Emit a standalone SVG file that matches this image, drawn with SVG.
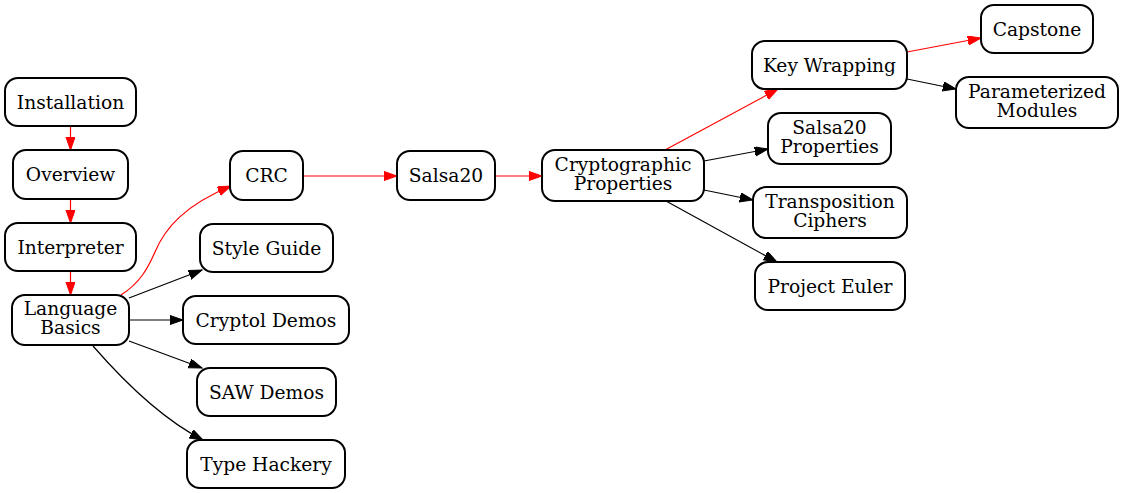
<svg xmlns="http://www.w3.org/2000/svg" width="1123" height="493" viewBox="0 0 1123 493">
<style>
.n rect{fill:#fff;stroke:#000;stroke-width:2;}
.n text{font-family:"DejaVu Serif",serif;font-size:18.67px;text-anchor:middle;fill:#000;}
.e path{fill:none;stroke-width:1.2;}
.r{stroke:#ff0000;marker-end:url(#ar);}
.b{stroke:#000;marker-end:url(#ab);}
</style>
<defs>
<marker id="ar" markerUnits="userSpaceOnUse" markerWidth="14" markerHeight="10" refX="13.3" refY="4.67" orient="auto"><path d="M0,0 L13.3,4.67 L0,9.33 z" fill="#ff0000" stroke="#ff0000" stroke-width="1"/></marker>
<marker id="ab" markerUnits="userSpaceOnUse" markerWidth="14" markerHeight="10" refX="13.3" refY="4.67" orient="auto"><path d="M0,0 L13.3,4.67 L0,9.33 z" fill="#000" stroke="#000" stroke-width="1"/></marker>
</defs>
<rect width="1123" height="493" fill="#fff"/>
<g id="edges" class="e">
<path class="r" d="M70.5,126 L70.5,150"/>
<path class="r" d="M70.5,199 L70.5,223"/>
<path class="r" d="M70.5,271 L70.5,295"/>
<path class="r" d="M121,295 C140,283 148,268 155,252 C165,228 185,205 231,186"/>
<path class="b" d="M129,298 L202,270"/>
<path class="b" d="M129,320 L183,320"/>
<path class="b" d="M129,341 L202,368"/>
<path class="b" d="M93,346 C120,377 160,418 203,440"/>
<path class="r" d="M303,176 L397,176"/>
<path class="r" d="M495,176 L542,176"/>
<path class="r" d="M665,150 L778,89"/>
<path class="b" d="M704,161 L768,149"/>
<path class="b" d="M704,190 L753,200"/>
<path class="b" d="M666,201 L777,262"/>
<path class="r" d="M907,52 L981,38"/>
<path class="b" d="M907,79 L956,89"/>
</g>
<g id="installation" class="n"><rect x="5" y="78" width="131" height="48" rx="13"/><text x="70.5" y="108.5">Installation</text></g>
<g id="overview" class="n"><rect x="13" y="150" width="115" height="49" rx="13"/><text x="70.5" y="181">Overview</text></g>
<g id="interpreter" class="n"><rect x="5" y="223" width="131" height="48" rx="13"/><text x="70.5" y="253.5">Interpreter</text></g>
<g id="language-basics" class="n"><rect x="12" y="295" width="117" height="50" rx="13"/><text x="70.5" y="315">Language</text><text x="70.5" y="334">Basics</text></g>
<g id="crc" class="n"><rect x="230" y="151" width="73" height="49" rx="13"/><text x="266.5" y="182">CRC</text></g>
<g id="style-guide" class="n"><rect x="200" y="224" width="133" height="48" rx="13"/><text x="266.5" y="254.5">Style Guide</text></g>
<g id="cryptol-demos" class="n"><rect x="183" y="296" width="166" height="48" rx="13"/><text x="266" y="326.5">Cryptol Demos</text></g>
<g id="saw-demos" class="n"><rect x="197" y="368" width="139" height="48" rx="13"/><text x="266.5" y="398.5">SAW Demos</text></g>
<g id="type-hackery" class="n"><rect x="187" y="440" width="158" height="48" rx="13"/><text x="266" y="470.5">Type Hackery</text></g>
<g id="salsa20" class="n"><rect x="397" y="151" width="98" height="49" rx="13"/><text x="446" y="182">Salsa20</text></g>
<g id="cryptographic-properties" class="n"><rect x="542" y="150" width="162" height="51" rx="13"/><text x="623" y="170.5">Cryptographic</text><text x="623" y="190">Properties</text></g>
<g id="key-wrapping" class="n"><rect x="752" y="41" width="155" height="48" rx="13"/><text x="829.5" y="71.5">Key Wrapping</text></g>
<g id="capstone" class="n"><rect x="981" y="5" width="112" height="48" rx="13"/><text x="1037" y="35.5">Capstone</text></g>
<g id="parameterized-modules" class="n"><rect x="956" y="77" width="162" height="51" rx="13"/><text x="1037" y="97.5">Parameterized</text><text x="1037" y="117">Modules</text></g>
<g id="salsa20-properties" class="n"><rect x="768" y="113" width="123" height="51" rx="13"/><text x="829.5" y="133.5">Salsa20</text><text x="829.5" y="153">Properties</text></g>
<g id="transposition-ciphers" class="n"><rect x="753" y="187" width="154" height="51" rx="13"/><text x="830" y="207.5">Transposition</text><text x="830" y="227">Ciphers</text></g>
<g id="project-euler" class="n"><rect x="755" y="262" width="150" height="48" rx="13"/><text x="830" y="292.5">Project Euler</text></g>
</svg>
